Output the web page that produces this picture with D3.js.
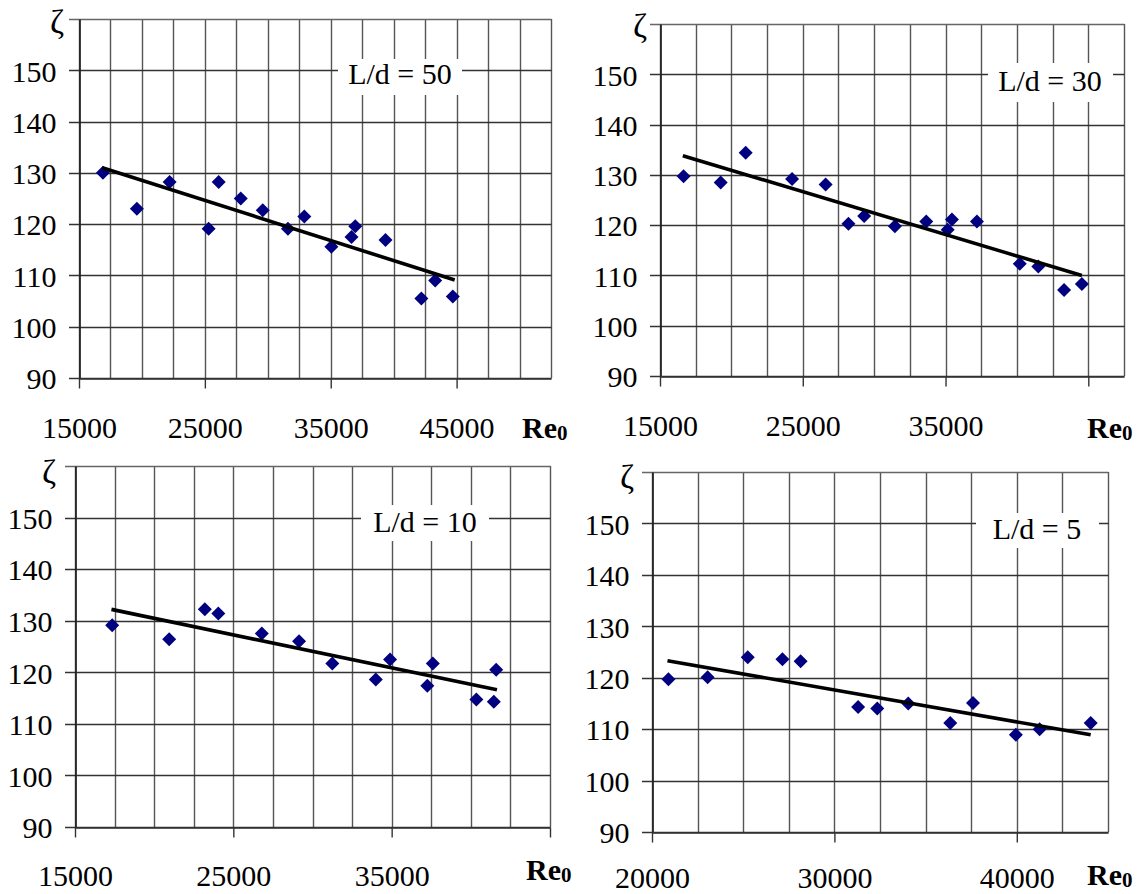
<!DOCTYPE html>
<html>
<head>
<meta charset="utf-8">
<script src="https://cdn.jsdelivr.net/npm/d3@7"></script>
<style>
body { margin: 0; background: #fff; }
</style>
</head>
<body>
<script>
// values
var yTicks = [90, 100, 110, 120, 130, 140, 150];

// L/d = 50
var re50 = [16900, 19600, 22200, 25300, 26100, 27850, 29600, 31600, 32900, 35050, 36650, 36950, 39350, 42200, 43300, 44700];
var zeta50 = [130.0, 123.0, 128.2, 119.1, 128.2, 125.0, 122.7, 119.1, 121.5, 115.6, 117.5, 119.6, 116.9, 105.5, 109.0, 105.9];
var trend50Re = [16850, 44850];
var trend50Zeta = [131.0, 109.1];

// L/d = 30
var re30 = [16650, 19250, 21000, 24250, 26600, 28200, 29300, 31450, 33650, 35150, 35450, 37200, 40200, 41500, 43300, 44550];
var zeta30 = [129.7, 128.5, 134.4, 129.2, 128.1, 120.3, 121.8, 119.8, 120.7, 119.1, 121.1, 120.7, 112.3, 111.8, 107.1, 108.3];
var trend30Re = [16600, 44550];
var trend30Zeta = [133.8, 110.0];

// L/d = 10
var re10 = [17350, 20950, 23200, 24050, 26800, 29150, 31250, 34000, 34900, 37250, 37600, 40350, 41450, 41600];
var zeta10 = [129.1, 126.4, 132.2, 131.4, 127.5, 126.0, 121.7, 118.6, 122.5, 117.4, 121.7, 114.7, 114.3, 120.5];
var trend10Re = [17300, 41650];
var trend10Zeta = [132.2, 116.6];

// L/d = 5
var re5 = [20900, 23050, 25250, 27150, 28150, 31300, 32350, 34050, 36350, 37600, 39950, 41250, 44050];
var zeta5 = [119.7, 120.1, 124.0, 123.6, 123.2, 114.3, 114.0, 115.0, 111.2, 115.1, 108.9, 110.0, 111.2];
var trend5Re = [20850, 44050];
var trend5Zeta = [123.3, 108.9];

var w = 1144, h = 894;
var font = 30;
var serif = "'Times New Roman', 'Liberation Serif', serif";

var svg = d3.select("body")
    .append("svg")
    .attr("width", w)
    .attr("height", h);

var panels = [
    {title: "L/d = 50", re: re50, zeta: zeta50, tRe: trend50Re, tZeta: trend50Zeta,
     xDomain: [15000, 52500], major: [15000, 25000, 35000, 45000], labels: [15000, 25000, 35000, 45000],
     left: 79, right: 551, top: 19, bottom: 378, labelY: 59,
     zetaAt: [57, 33], reAt: [522, 438], box: [338, 59, 124, 36], titleAt: [400, 84]},
    {title: "L/d = 30", re: re30, zeta: zeta30, tRe: trend30Re, tZeta: trend30Zeta,
     xDomain: [15000, 47500], major: [15000, 25000, 35000, 45000], labels: [15000, 25000, 35000],
     left: 660, right: 1124, top: 24, bottom: 376, labelY: 59,
     zetaAt: [640, 37], reAt: [1087, 438], box: [988, 63, 125, 39], titleAt: [1050, 91]},
    {title: "L/d = 10", re: re10, zeta: zeta10, tRe: trend10Re, tZeta: trend10Zeta,
     xDomain: [15000, 45000], major: [15000, 25000, 35000, 45000], labels: [15000, 25000, 35000],
     left: 75, right: 550, top: 466, bottom: 827, labelY: 58,
     zetaAt: [49, 483], reAt: [526, 880], box: [361, 505, 128, 36], titleAt: [425, 532]},
    {title: "L/d = 5", re: re5, zeta: zeta5, tRe: trend5Re, tZeta: trend5Zeta,
     xDomain: [20000, 45000], major: [20000, 30000, 40000], labels: [20000, 30000, 40000],
     left: 652, right: 1108, top: 472, bottom: 832, labelY: 55,
     zetaAt: [627, 488], reAt: [1087, 885], box: [976, 513, 123, 35], titleAt: [1037, 539]}
];

var diamond = "M0,-7L7,0L0,7L-7,0Z";

panels.forEach(function (p) {
    var x = d3.scaleLinear().domain(p.xDomain).range([p.left, p.right]);
    var y = d3.scaleLinear().domain([90, 160]).range([p.bottom, p.top]);
    var g = svg.append("g");

    // vertical gridlines every 2500
    g.selectAll(".vgrid")
        .data(d3.range(p.xDomain[0], p.xDomain[1] + 1, 2500))
        .enter()
        .append("line")
        .attr("x1", function (d) { return Math.round(x(d)) + 0.5; })
        .attr("x2", function (d) { return Math.round(x(d)) + 0.5; })
        .attr("y1", p.top)
        .attr("y2", p.bottom)
        .attr("stroke", "#555")
        .attr("stroke-width", 1.4);

    // horizontal gridlines, running a little past the left axis
    g.selectAll(".hgrid")
        .data(d3.range(90, 161, 10))
        .enter()
        .append("line")
        .attr("x1", p.left - 10)
        .attr("x2", p.right + 0.5)
        .attr("y1", function (d) { return Math.round(y(d)) + 0.5; })
        .attr("y2", function (d) { return Math.round(y(d)) + 0.5; })
        .attr("stroke", function (d) { return d === 160 ? "#666" : "#333"; })
        .attr("stroke-width", 1.4);

    // title box
    g.append("rect")
        .attr("x", p.box[0]).attr("y", p.box[1])
        .attr("width", p.box[2]).attr("height", p.box[3])
        .attr("fill", "#fff");
    g.append("text")
        .attr("x", p.titleAt[0]).attr("y", p.titleAt[1])
        .attr("text-anchor", "middle")
        .style("font-family", serif)
        .style("font-size", font + "px")
        .text(p.title);

    // y axis
    var ya = g.append("g")
        .attr("transform", "translate(" + (Math.round(p.left) + 0.5) + ",0)")
        .call(d3.axisLeft(y).tickValues(yTicks).tickSize(0).tickPadding(23).tickSizeOuter(0));
    ya.select(".domain").attr("stroke", "#222").attr("stroke-width", 1.7);
    ya.selectAll("text")
        .style("font-family", serif)
        .style("font-size", font + "px")
        .attr("fill", "#000")
        .attr("dy", "0.36em");

    // x axis
    var xa = g.append("g")
        .attr("transform", "translate(0," + (Math.round(p.bottom) + 0.5) + ")")
        .call(d3.axisBottom(x).tickValues(p.major).tickSize(10).tickSizeOuter(0)
            .tickFormat(function (d) { return p.labels.indexOf(d) >= 0 ? d : ""; }));
    xa.select(".domain").attr("stroke", "#333").attr("stroke-width", 1.7);
    xa.selectAll(".tick line").attr("stroke", "#333").attr("stroke-width", 1.4);
    xa.selectAll("text")
        .style("font-family", serif)
        .style("font-size", font + "px")
        .attr("fill", "#000")
        .attr("y", p.labelY)
        .attr("dy", null);

    // points
    g.selectAll(".pt")
        .data(p.re)
        .enter()
        .append("path")
        .attr("d", diamond)
        .attr("transform", function (d, i) { return "translate(" + x(d) + "," + y(p.zeta[i]) + ")"; })
        .attr("fill", "#000080");

    // trend line
    g.append("line")
        .attr("x1", x(p.tRe[0])).attr("y1", y(p.tZeta[0]))
        .attr("x2", x(p.tRe[1])).attr("y2", y(p.tZeta[1]))
        .attr("stroke", "#000")
        .attr("stroke-width", 3.6);

    // axis names
    g.append("text")
        .attr("x", p.zetaAt[0]).attr("y", p.zetaAt[1])
        .attr("text-anchor", "middle")
        .style("font-family", serif)
        .style("font-size", "34px")
        .text("ζ");
    var re = g.append("text")
        .attr("x", p.reAt[0]).attr("y", p.reAt[1])
        .style("font-family", serif)
        .style("font-size", font + "px")
        .style("font-weight", "bold");
    re.append("tspan").text("Re");
    re.append("tspan").style("font-size", "21px").attr("dy", 2).text("0");
});
</script>
</body>
</html>
